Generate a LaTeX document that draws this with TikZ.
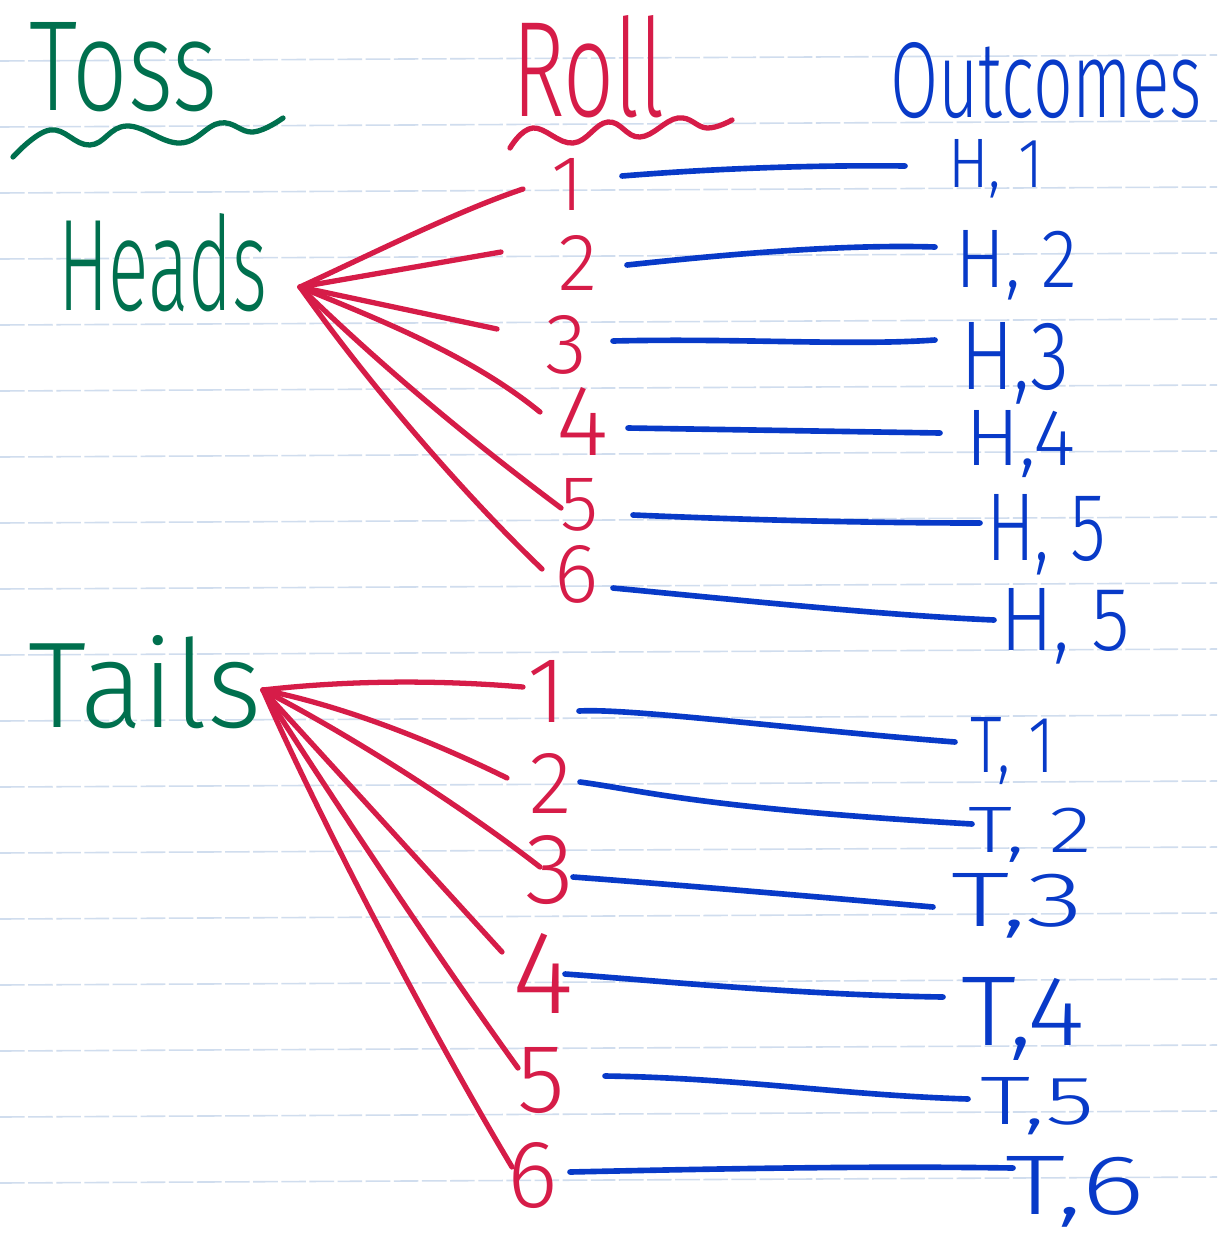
\documentclass[tikz,border=0pt]{standalone}
\usepackage{fontspec}
\usepackage{graphicx}
\newfontfamily\handfont{Fira Sans Light}
\definecolor{inkgreen}{RGB}{0,112,78}
\definecolor{inkred}{RGB}{214,28,72}
\definecolor{inkblue}{RGB}{8,58,200}
\definecolor{ruleblue}{RGB}{208,221,238}
% text stretched to a given width and height (cm)
\newcommand{\hw}[3]{\resizebox{#1cm}{#2cm}{\handfont #3}}
% digit scaled to a given height (cm)
\newcommand{\hd}[2]{\resizebox{!}{#1cm}{\handfont #2}}
\tikzset{
  ruling/.style={draw=ruleblue, line width=0.45pt, dash pattern=on 7pt off 1pt},
  txt/.style={inner sep=0pt, outer sep=0pt, anchor=base west},
  digit/.style={inner sep=0pt, outer sep=0pt, anchor=base, text=inkred},
  wavy/.style={line width=1.5pt, line cap=round, line join=round},
  redline/.style={draw=inkred, line width=1.5pt, line cap=round},
  blueline/.style={draw=inkblue, line width=1.6pt, line cap=round},
}
\begin{document}
\begin{tikzpicture}[x=0.01cm, y=-0.01cm]
\useasboundingbox (0,0) rectangle (1217,1236);
\fill[white] (0,0) rectangle (1217,1236);

% ruled paper
\foreach \k in {0,...,17}
  \draw[ruling] (0,{61+66*\k}) -- (1217,{55+66*\k});

% column headings
\node[txt, text=inkgreen] (toss) at (30,110) {\hw{1.87}{0.88}{Toss}};
\node[txt, text=inkred] (roll) at (512,116) {\hw{1.53}{1.01}{Roll}};
\node[txt, text=inkblue] (outcomes) at (890,117) {\hw{3.12}{0.75}{Outcomes}};
\draw[wavy, inkgreen] plot[smooth, tension=0.7] coordinates
  {(13,157) (50,130) (90,145) (127,126) (180,143) (220,123) (253,132) (283,118)};
\draw[wavy, inkred] plot[smooth, tension=0.7] coordinates
  {(510,148) (533,128) (573,143) (608,122) (640,137) (678,118) (707,128) (732,120)};

% coin results
\node[txt, text=inkgreen] (heads) at (58,310) {\hw{2.09}{0.97}{Heads}};
\node[txt, text=inkgreen] (tails) at (28,727) {\hw{2.34}{0.92}{Tails}};
\coordinate (hroot) at (300,287);
\coordinate (troot) at (263,690);

% die rolls after heads
\node[digit] (h1) at (568,210) {\hd{0.52}{1}};
\node[digit] (h2) at (578,290) {\hd{0.55}{2}};
\node[digit] (h3) at (566,373) {\hd{0.58}{3}};
\node[digit] (h4) at (583,455) {\hd{0.68}{4}};
\node[digit] (h5) at (580,530) {\hd{0.52}{5}};
\node[digit] (h6) at (577,602) {\hd{0.57}{6}};

% die rolls after tails
\node[digit] (t1) at (547,722) {\hd{0.62}{1}};
\node[digit] (t2) at (551,813) {\hd{0.60}{2}};
\node[digit] (t3) at (550,903) {\hd{0.68}{3}};
\node[digit] (t4) at (543,1013) {\hd{0.80}{4}};
\node[digit] (t5) at (541,1112) {\hd{0.65}{5}};
\node[digit] (t6) at (533,1207) {\hd{0.65}{6}};

% outcomes
\node[txt, text=inkblue] (oh1) at (948,187) {\hw{0.95}{0.48}{H, 1}};
\node[txt, text=inkblue] (oh2) at (955,287) {\hw{1.22}{0.57}{H, 2}};
\node[txt, text=inkblue] (oh3) at (960,389) {\hw{1.10}{0.67}{H,3}};
\node[txt, text=inkblue] (oh4) at (965,465) {\hw{1.10}{0.55}{H,4}};
\node[txt, text=inkblue] (oh5) at (986,560) {\hw{1.20}{0.66}{H, 5}};
\node[txt, text=inkblue] (oh6) at (1000,650) {\hw{1.30}{0.62}{H, 5}};
\node[txt, text=inkblue] (ot1) at (970,772) {\hw{0.85}{0.55}{T, 1}};
\node[txt, text=inkblue] (ot2) at (968,852) {\hw{1.24}{0.45}{T, 2}};
\node[txt, text=inkblue] (ot3) at (951,926) {\hw{1.33}{0.53}{T,3}};
\node[txt, text=inkblue] (ot4) at (961,1045) {\hw{1.24}{0.68}{T,4}};
\node[txt, text=inkblue] (ot5) at (980,1124) {\hw{1.15}{0.47}{T,5}};
\node[txt, text=inkblue] (ot6) at (1005,1214) {\hw{1.40}{0.58}{T,6}};

% branch ends next to the digits
\coordinate (hb1) at (523,189);
\coordinate (hb2) at (501,252);
\coordinate (hb3) at (497,329);
\coordinate (hb4) at (540,412);
\coordinate (hb5) at (561,508);
\coordinate (hb6) at (542,569);
\coordinate (tb1) at (523,687);
\coordinate (tb2) at (507,778);
\coordinate (tb3) at (540,867);
\coordinate (tb4) at (502,952);
\coordinate (tb5) at (518,1068);
\coordinate (tb6) at (512,1167);

% red branches: coin -> die
\draw[redline] (hroot) .. controls (380,250) and (460,210) .. (hb1);
\draw[redline] (hroot) -- (hb2);
\draw[redline] (hroot) -- (hb3);
\draw[redline] (hroot) .. controls (380,320) and (470,355) .. (hb4);
\draw[redline] (hroot) .. controls (380,365) and (470,440) .. (hb5);
\draw[redline] (hroot) .. controls (380,400) and (480,510) .. (hb6);
\draw[redline] (troot) .. controls (350,680) and (440,680) .. (tb1);
\draw[redline] (troot) .. controls (340,705) and (430,740) .. (tb2);
\draw[redline] (troot) .. controls (350,735) and (460,805) .. (tb3);
\draw[redline] (troot) -- (tb4);
\draw[redline] (troot) .. controls (340,810) and (440,960) .. (tb5);
\draw[redline] (troot) .. controls (320,820) and (430,1030) .. (tb6);

% blue links: die -> outcome
\coordinate (hs1) at (622,176); \coordinate (he1) at (905,166);
\coordinate (hs2) at (627,265); \coordinate (he2) at (935,247);
\coordinate (hs3) at (613,341); \coordinate (he3) at (935,340);
\coordinate (hs4) at (628,428); \coordinate (he4) at (940,433);
\coordinate (hs5) at (633,515); \coordinate (he5) at (980,523);
\coordinate (hs6) at (613,588); \coordinate (he6) at (994,620);
\coordinate (ts1) at (579,711); \coordinate (te1) at (955,742);
\coordinate (ts2) at (580,782); \coordinate (te2) at (972,824);
\coordinate (ts3) at (573,877); \coordinate (te3) at (933,907);
\coordinate (ts4) at (565,974); \coordinate (te4) at (943,997);
\coordinate (ts5) at (605,1076); \coordinate (te5) at (968,1099);
\coordinate (ts6) at (570,1172); \coordinate (te6) at (1013,1168);

\draw[blueline] (hs1) .. controls (720,168) and (820,165) .. (he1);
\draw[blueline] (hs2) .. controls (720,255) and (840,244) .. (he2);
\draw[blueline] (hs3) .. controls (740,338) and (850,346) .. (he3);
\draw[blueline] (hs4) -- (he4);
\draw[blueline] (hs5) .. controls (750,520) and (870,523) .. (he5);
\draw[blueline] (hs6) .. controls (740,600) and (880,615) .. (he6);
\draw[blueline] (ts1) .. controls (630,708) and (800,730) .. (te1);
\draw[blueline] (ts2) .. controls (640,790) and (700,808) .. (te2);
\draw[blueline] (ts3) .. controls (680,885) and (820,897) .. (te3);
\draw[blueline] (ts4) .. controls (650,980) and (800,995) .. (te4);
\draw[blueline] (ts5) .. controls (740,1078) and (840,1095) .. (te5);
\draw[blueline] (ts6) .. controls (750,1168) and (880,1166) .. (te6);
\end{tikzpicture}
\end{document}
